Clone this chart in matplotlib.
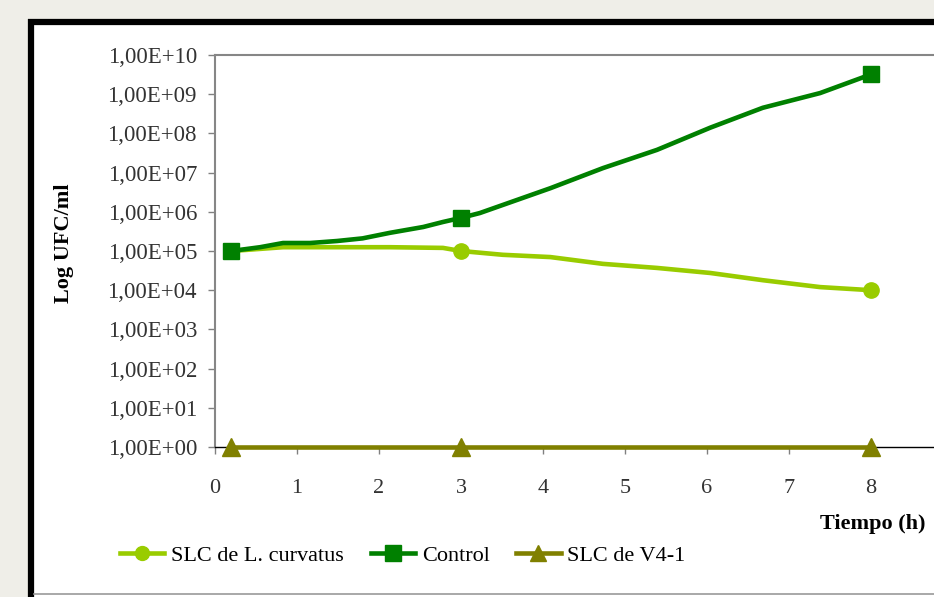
import matplotlib
matplotlib.use('Agg')
import matplotlib.pyplot as plt
from matplotlib.lines import Line2D
from matplotlib.patches import Rectangle
from matplotlib.ticker import FuncFormatter, FixedLocator, NullLocator
import numpy as np

plt.rcParams['font.family'] = ['Liberation Serif', 'DejaVu Serif']

# time (h) and UFC/ml
curv_t = [0.2, 0.83, 1.5, 2.13, 2.78, 3.0, 3.51, 4.09, 4.73, 5.39, 6.04, 6.68, 7.38, 8.0]
curv_v = [1.0e5, 1.25e5, 1.25e5, 1.25e5, 1.2e5, 1.0e5, 8.0e4, 7.0e4, 4.7e4, 3.7e4, 2.75e4, 1.8e4, 1.2e4, 1.0e4]

ctrl_t = [0.2, 0.55, 0.83, 1.16, 1.49, 1.8, 2.13, 2.54, 2.78, 3.0, 3.23, 4.09, 4.73, 5.39, 6.04, 6.68, 7.38, 8.0]
ctrl_v = [1.0e5, 1.25e5, 1.6e5, 1.6e5, 1.8e5, 2.1e5, 2.9e5, 4.1e5, 5.5e5, 7.0e5, 9.3e5, 4.0e6, 1.3e7, 3.8e7, 1.4e8, 4.5e8, 1.07e9, 3.2e9]

v41_t = [0.2, 3.0, 8.0]
v41_v = [1.0, 1.0, 1.0]

sample_t = [0.2, 3.0, 8.0]   # sampling times carrying markers
x_ticks = [0, 1, 2, 3, 4, 5, 6, 7, 8]
labels = ['SLC de L. curvatus', 'Control', 'SLC de V4-1']
colors = ['#99cc00', '#008000', '#808000']
markers = ['o', 's', '^']
msizes = [11, 12, 13]

W, H = 934, 597
fig = plt.figure(figsize=(W / 100, H / 100), dpi=100, facecolor='#efeee8')

# white slide panel with thick black frame (cut off on the right)
fig.patches.append(Rectangle((28 / W, 0), 1.2, 1 - 19 / H, transform=fig.transFigure,
                             facecolor='white', edgecolor='none', zorder=-5))
fig.lines.append(Line2D([31 / W, 31 / W], [0, 1 - 19 / H], transform=fig.transFigure,
                        color='black', lw=4.5, solid_capstyle='butt', zorder=-4))
fig.lines.append(Line2D([28 / W, 1.0], [1 - 22 / H, 1 - 22 / H], transform=fig.transFigure,
                        color='black', lw=4.5, solid_capstyle='butt', zorder=-4))
fig.lines.append(Line2D([34 / W, 1.0], [1 - 594 / H, 1 - 594 / H], transform=fig.transFigure,
                        color='#9a9a9a', lw=1.2, zorder=-4))

ax = fig.add_axes([215 / W, (H - 447) / H, 820 / W, (447 - 55) / H])
ax.set_facecolor('white')

series = [(curv_t, curv_v), (ctrl_t, ctrl_v), (v41_t, v41_v)]
for (t, v), lab, c, m, ms in zip(series, labels, colors, markers, msizes):
    t = np.array(t)
    v = np.array(v)
    ax.plot(t, v, color=c, lw=3.3, solid_joinstyle='round', clip_on=False, zorder=3)
    idx = np.isin(t, sample_t)
    ax.plot(t[idx], v[idx], linestyle='none', marker=m, markersize=ms, color=c,
            clip_on=False, zorder=4)

ax.set_yscale('log')
ax.set_ylim(1, 1e10)
ax.set_xlim(0, 10)

ax.yaxis.set_major_locator(FixedLocator([10.0 ** k for k in range(11)]))
ax.yaxis.set_minor_locator(NullLocator())
ax.yaxis.set_major_formatter(FuncFormatter(lambda y, p: '1,00E+%02d' % int(round(np.log10(y)))))
ax.set_xticks(x_ticks)

ax.tick_params(axis='y', direction='out', length=5, width=1, color='#808080',
               pad=8, labelsize=16.5, labelcolor='#333333')
ax.tick_params(axis='x', direction='out', length=5, width=1, color='#808080',
               pad=18, labelsize=16, labelcolor='#333333')

for s in ['left', 'top']:
    ax.spines[s].set_color('#868686')
    ax.spines[s].set_linewidth(1.5)
ax.spines['bottom'].set_color('black')
ax.spines['bottom'].set_linewidth(1.0)
ax.spines['right'].set_visible(False)

fig.text(64 / W, 1 - 243 / H, 'Log UFC/ml', rotation=90, ha='center', va='center',
         fontsize=16, fontweight='bold', color='black')
fig.text(926 / W, 1 - 524 / H, 'Tiempo (h)', ha='right', va='center',
         fontsize=16, fontweight='bold', color='black')

handles = [Line2D([], [], color=c, lw=3.3, marker=m, markersize=ms - 1)
           for c, m, ms in zip(colors, markers, msizes)]
fig.legend(handles, labels, loc='center left', bbox_to_anchor=(120 / W, 1 - 556 / H),
           ncol=3, frameon=False, fontsize=16, handlelength=2.0, handletextpad=0.3,
           columnspacing=1.2, borderaxespad=0, borderpad=0)

fig.savefig('out.png', dpi=100, facecolor=fig.get_facecolor())
